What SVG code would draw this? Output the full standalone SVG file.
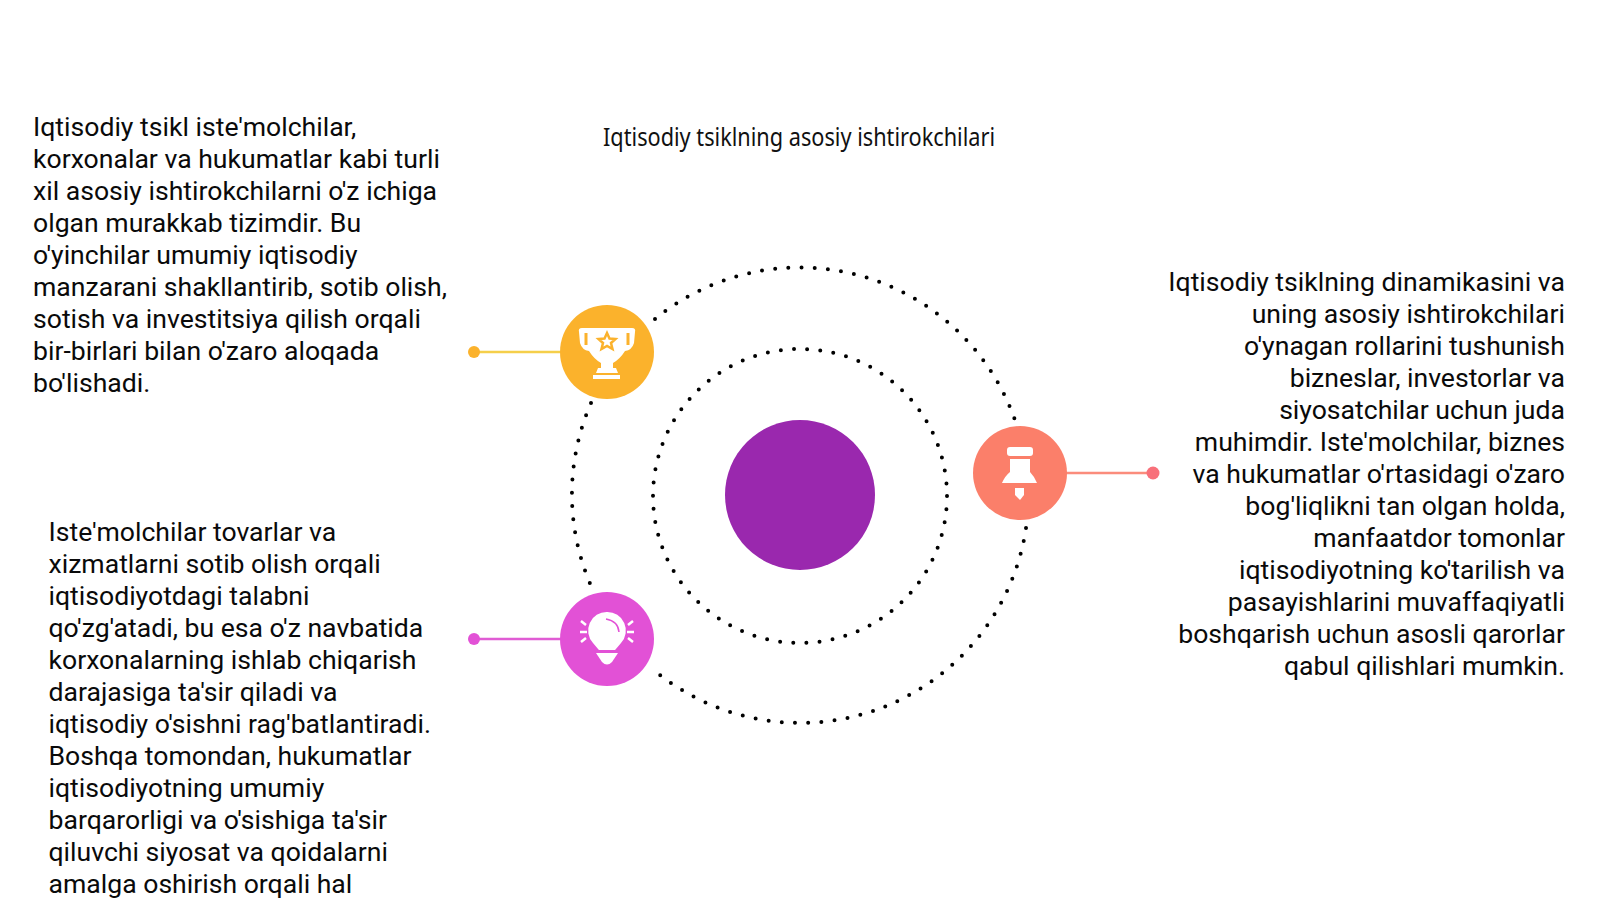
<svg xmlns="http://www.w3.org/2000/svg" width="1600" height="900" viewBox="0 0 1600 900">
<style>
.t{font-family:Roboto,"Liberation Sans",sans-serif;font-size:26.6px;fill:#0a0a0a}
.d{fill:none;stroke:#000;stroke-width:4;stroke-linecap:round;stroke-dasharray:0 13.2}
.w{fill:#fff}
</style>
<rect width="1600" height="900" fill="#fff"/>
<g id="connectors">
<path class="d" d="M591 403A228.500 228.500 0 0 0 592 588"/>
<path class="d" d="M655 319A228.500 228.500 0 0 1 1016 423"/>
<path class="d" d="M1026 528A228.500 228.500 0 0 1 655 671"/>
<circle class="d" cx="800" cy="496" r="147"/>
<path d="M474 352H562" stroke="#f5cf4a" stroke-width="2.500"/>
<circle cx="474" cy="352" r="6" fill="#fbb22c"/>
<path d="M474 639H562" stroke="#e05cd4" stroke-width="2.500"/>
<circle cx="474" cy="639" r="6" fill="#e251d6"/>
<path d="M1066 473H1153" stroke="#fb8c7c" stroke-width="2.500"/>
<circle cx="1153" cy="473" r="6.500" fill="#f8707a"/>
</g>
<g id="center"><circle cx="800" cy="495" r="75" fill="#9a28ae"/></g>
<g id="trophy">
<circle cx="607" cy="352" r="47" fill="#fbb22c"/>
<path class="w" d="M582 328H632Q636 328 635 332L634 343Q632 350 625 351Q620 359 613 363V368H601V363Q594 359 589 351Q582 350 580 343L579 332Q578 328 582 328Z"/>
<path d="M586 333V345M628 333V345" stroke="#fbb22c" stroke-width="3"/>
<path d="M607 333L609.500 338.500L615.500 339L611 343L612.500 349L607 346L601.500 349L603 343L598.500 339L604.500 338.500Z" fill="none" stroke="#fbb22c" stroke-width="2.500"/>
<path class="w" d="M598 368H616L618 373H596ZM593 375H620V379H593Z"/>
</g>
<g id="pin">
<circle cx="1020" cy="473" r="47" fill="#fb7f6a"/>
<rect class="w" x="1007" y="447" width="26" height="9" rx="3"/>
<path class="w" d="M1010 459H1030V472Q1034 476 1037 483H1002Q1005 476 1010 472Z"/>
<path class="w" d="M1015 488H1024V495L1020 500L1015 495Z"/>
</g>
<g id="bulb">
<circle cx="607" cy="639" r="47" fill="#e251d6"/>
<path class="w" d="M607 612A18.500 18.500 0 0 1 621 643Q616 649 615 650H599Q598 649 593 643A18.500 18.500 0 0 1 607 612Z"/>
<path class="w" d="M596 653H618L612 662Q607 667 602 662Z"/>
<path d="M606 619Q618 621 619 632" fill="none" stroke="#e251d6" stroke-width="1.500"/>
<path d="M581 621L586 625M580 632H587M581 642L586 638M633 621L628 625M634 632H627M633 642L628 638" stroke="#fff" stroke-width="2.500"/>
</g>
<text id="title" x="603" y="146" font-family="'Noto Sans','Open Sans',sans-serif" font-size="25" fill="#111" textLength="392" lengthAdjust="spacingAndGlyphs">Iqtisodiy tsiklning asosiy ishtirokchilari</text>
<g id="text-left-top">
<text x="33" y="136" class="t">Iqtisodiy tsikl iste'molchilar,</text>
<text x="33" y="168" class="t">korxonalar va hukumatlar kabi turli</text>
<text x="33" y="200" class="t">xil asosiy ishtirokchilarni o'z ichiga</text>
<text x="33" y="232" class="t">olgan murakkab tizimdir. Bu</text>
<text x="33" y="264" class="t">o'yinchilar umumiy iqtisodiy</text>
<text x="33" y="296" class="t">manzarani shakllantirib, sotib olish,</text>
<text x="33" y="328" class="t">sotish va investitsiya qilish orqali</text>
<text x="33" y="360" class="t">bir-birlari bilan o'zaro aloqada</text>
<text x="33" y="392" class="t">bo'lishadi.</text>
</g>
<g id="text-left-bottom">
<text x="48.500" y="541" class="t">Iste'molchilar tovarlar va</text>
<text x="48.500" y="573" class="t">xizmatlarni sotib olish orqali</text>
<text x="48.500" y="605" class="t">iqtisodiyotdagi talabni</text>
<text x="48.500" y="637" class="t">qo'zg'atadi, bu esa o'z navbatida</text>
<text x="48.500" y="669" class="t">korxonalarning ishlab chiqarish</text>
<text x="48.500" y="701" class="t">darajasiga ta'sir qiladi va</text>
<text x="48.500" y="733" class="t">iqtisodiy o'sishni rag'batlantiradi.</text>
<text x="48.500" y="765" class="t">Boshqa tomondan, hukumatlar</text>
<text x="48.500" y="797" class="t">iqtisodiyotning umumiy</text>
<text x="48.500" y="829" class="t">barqarorligi va o'sishiga ta'sir</text>
<text x="48.500" y="861" class="t">qiluvchi siyosat va qoidalarni</text>
<text x="48.500" y="893" class="t">amalga oshirish orqali hal</text>
</g>
<g id="text-right" text-anchor="end">
<text x="1565" y="291" class="t">Iqtisodiy tsiklning dinamikasini va</text>
<text x="1565" y="323" class="t">uning asosiy ishtirokchilari</text>
<text x="1565" y="355" class="t">o'ynagan rollarini tushunish</text>
<text x="1565" y="387" class="t">bizneslar, investorlar va</text>
<text x="1565" y="419" class="t">siyosatchilar uchun juda</text>
<text x="1565" y="451" class="t">muhimdir. Iste'molchilar, biznes</text>
<text x="1565" y="483" class="t">va hukumatlar o'rtasidagi o'zaro</text>
<text x="1565" y="515" class="t">bog'liqlikni tan olgan holda,</text>
<text x="1565" y="547" class="t">manfaatdor tomonlar</text>
<text x="1565" y="579" class="t">iqtisodiyotning ko'tarilish va</text>
<text x="1565" y="611" class="t">pasayishlarini muvaffaqiyatli</text>
<text x="1565" y="643" class="t">boshqarish uchun asosli qarorlar</text>
<text x="1565" y="675" class="t">qabul qilishlari mumkin.</text>
</g>
</svg>
